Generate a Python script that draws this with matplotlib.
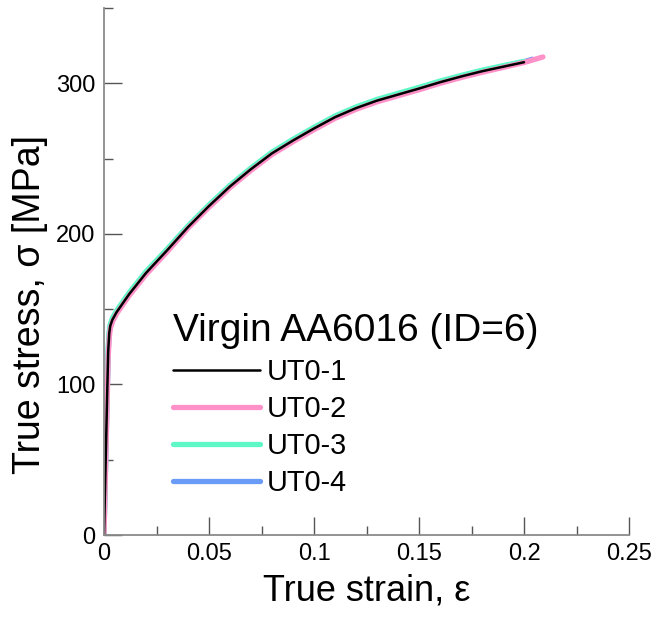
import matplotlib
matplotlib.use("Agg")
import matplotlib.pyplot as plt
import numpy as np

plt.rcParams['font.family'] = ['Liberation Sans', 'DejaVu Sans']

# ---- data ----
strain_1 = [0, 0.0005, 0.001, 0.0015, 0.002, 0.0025, 0.003, 0.004, 0.006, 0.008,
            0.012, 0.02, 0.03, 0.04, 0.05, 0.06, 0.07, 0.08, 0.09, 0.10,
            0.11, 0.12, 0.13, 0.14, 0.15, 0.16, 0.17, 0.18, 0.19, 0.20]
stress_1 = [0, 31, 62, 93, 122, 134, 139, 143, 148, 152,
            160, 174, 189, 204.5, 218.5, 231.5, 243, 253.5, 262, 270,
            277.5, 283.5, 288.5, 292.5, 296.5, 300.7, 304.5, 308, 311, 314]

strain_2 = [0, 0.0005, 0.001, 0.0015, 0.002, 0.0025, 0.003, 0.004, 0.006, 0.008,
            0.012, 0.02, 0.03, 0.04, 0.05, 0.06, 0.07, 0.08, 0.09, 0.10,
            0.11, 0.12, 0.13, 0.14, 0.15, 0.16, 0.17, 0.18, 0.19, 0.20, 0.209]
stress_2 = [0, 29, 59, 89, 118, 131, 137, 141.5, 147, 151,
            159, 173, 188, 203.8, 217.7, 230.7, 242.2, 252.7, 261.2, 269.2,
            276.7, 282.7, 287.7, 291.7, 295.7, 300, 303.8, 307.3, 310.5, 313.8, 317.5]

strain_3 = [0, 0.0005, 0.001, 0.0015, 0.002, 0.0025, 0.003, 0.004, 0.006, 0.008,
            0.012, 0.02, 0.03, 0.04, 0.05, 0.06, 0.07, 0.08, 0.09, 0.10,
            0.11, 0.12, 0.13, 0.14, 0.15, 0.16, 0.17, 0.18, 0.19, 0.20]
stress_3 = [0, 32, 64, 96, 125, 135.5, 140, 144, 149, 153,
            161, 175, 189.8, 205.3, 219.3, 232.3, 243.8, 254.3, 262.8, 270.8,
            278.3, 284.3, 289.3, 293.3, 297.3, 301.5, 305.2, 308.7, 311.7, 314.6]

strain_4 = [0, 0.0005, 0.001, 0.0015, 0.002, 0.0025, 0.003, 0.004, 0.006, 0.008,
            0.012, 0.02, 0.03, 0.04, 0.05, 0.06, 0.07, 0.08, 0.09, 0.10,
            0.11, 0.12, 0.13, 0.14, 0.15, 0.16, 0.17, 0.18, 0.19, 0.20, 0.204]
stress_4 = [0, 31, 62, 93, 122, 134, 139, 143, 148, 152,
            160, 174, 189, 204.5, 218.5, 231.5, 243, 253.5, 262, 270,
            277.5, 283.5, 288.5, 292.5, 296.5, 300.7, 304.5, 308, 311.2, 314.3, 316]

labels = ['UT0-1', 'UT0-2', 'UT0-3', 'UT0-4']
colors = ['#000000', '#ff91c8', '#5ef7c6', '#6a9cf7']
legend_title = 'Virgin AA6016 (ID=6)'
xticks = [0, 0.05, 0.1, 0.15, 0.2, 0.25]
xticklabels = ['0', '0.05', '0.1', '0.15', '0.2', '0.25']
yticks = [0, 100, 200, 300]

fig = plt.figure(figsize=(6.57, 6.17), dpi=100)
ax = fig.add_axes([0.1583, 0.1329, 0.7991, 0.8541])

l4, = ax.plot(strain_4, stress_4, color=colors[3], lw=3.8, solid_capstyle='round', label=labels[3])
l3, = ax.plot(strain_3, stress_3, color=colors[2], lw=3.8, solid_capstyle='round', label=labels[2])
l2, = ax.plot(strain_2, stress_2, color=colors[1], lw=3.8, solid_capstyle='round', label=labels[1])
l1, = ax.plot(strain_1, stress_1, color=colors[0], lw=1.8, solid_capstyle='round', label=labels[0])

ax.set_xlim(0, 0.25)
ax.set_ylim(0, 350)
ax.set_xticks(xticks)
ax.set_xticklabels(xticklabels)
ax.set_yticks(yticks)
ax.set_xticks(np.arange(0.025, 0.25, 0.05), minor=True)
ax.set_yticks([50, 150, 250, 350], minor=True)

for s in ['top', 'right']:
    ax.spines[s].set_visible(False)
for s in ['left', 'bottom']:
    ax.spines[s].set_color('#8a8a8a')
    ax.spines[s].set_linewidth(1.3)

ax.tick_params(which='major', direction='in', length=12.7, width=1.0, color='#555555',
               labelsize=17, pad=6)
ax.tick_params(which='minor', direction='in', length=6.7, width=1.0, color='#555555')

ax.set_xlabel('True strain, ε', fontsize=26, labelpad=6)
ax.set_ylabel('True stress, σ [MPa]', fontsize=27)
ax.yaxis.set_label_coords(-0.106, 0.438)

leg = ax.legend(handles=[l1, l2, l3, l4], labels=labels, title=legend_title,
                frameon=False, fontsize=20.8, title_fontsize=28,
                loc='lower left', bbox_to_anchor=(173 / 657, 1 - 497 / 617),
                bbox_transform=fig.transFigure, borderpad=0, borderaxespad=0,
                handlelength=3.0, handletextpad=0.24, labelspacing=0.31)
leg._legend_box.align = 'left'

fig.savefig('out.png', dpi=100)
